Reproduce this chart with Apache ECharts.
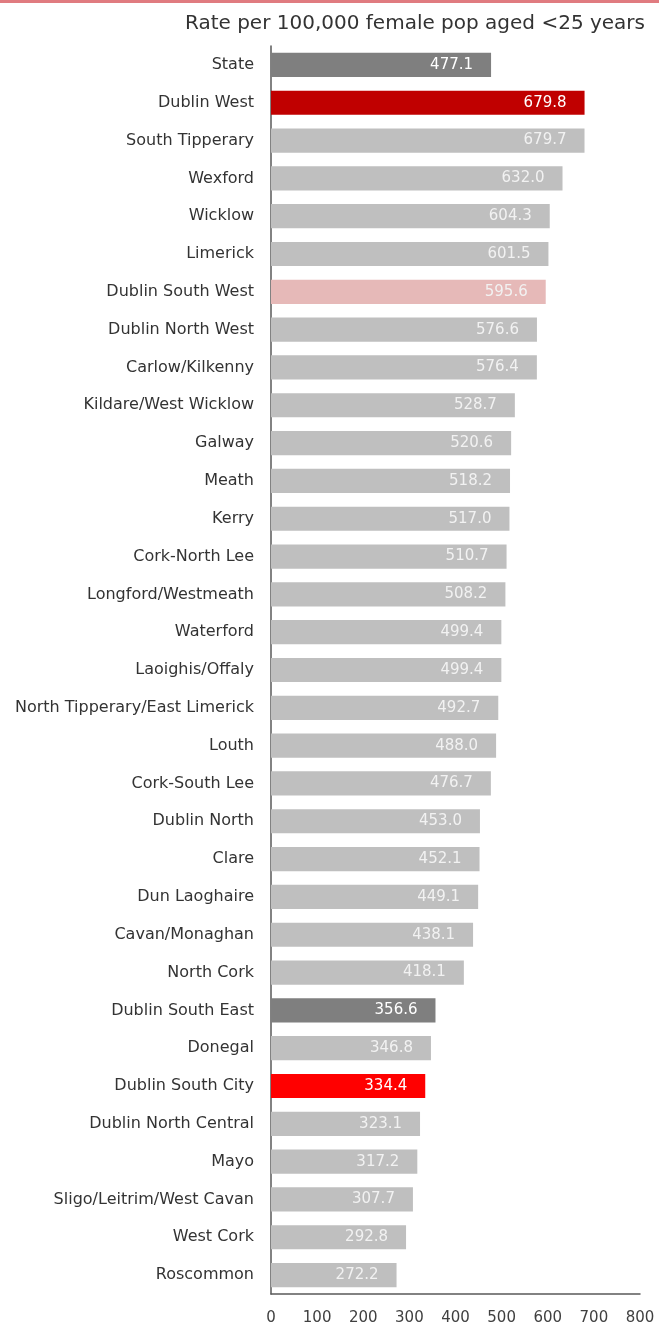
<!DOCTYPE html>
<html>
<head>
<meta charset="utf-8">
<script src="https://cdn.jsdelivr.net/npm/echarts@6/dist/echarts.min.js"></script>
<style>html,body{margin:0;padding:0;background:#fff}#c{width:659px;height:1327px}</style>
</head>
<body>
<div id="c"></div>
<script>
var categories = ["State","Dublin West","South Tipperary","Wexford","Wicklow","Limerick","Dublin South West","Dublin North West","Carlow/Kilkenny","Kildare/West Wicklow","Galway","Meath","Kerry","Cork-North Lee","Longford/Westmeath","Waterford","Laoighis/Offaly","North Tipperary/East Limerick","Louth","Cork-South Lee","Dublin North","Clare","Dun Laoghaire","Cavan/Monaghan","North Cork","Dublin South East","Donegal","Dublin South City","Dublin North Central","Mayo","Sligo/Leitrim/West Cavan","West Cork","Roscommon"];
var values = [477.1,679.8,679.7,632.0,604.3,601.5,595.6,576.6,576.4,528.7,520.6,518.2,517.0,510.7,508.2,499.4,499.4,492.7,488.0,476.7,453.0,452.1,449.1,438.1,418.1,356.6,346.8,334.4,323.1,317.2,307.7,292.8,272.2];
var xTicks = [0,100,200,300,400,500,600,700,800];
var title = "Rate per 100,000 female pop aged <25 years";

var defaultColor = '#bfbfbf';
var specialColors = {
  "State": '#7f7f7f',
  "Dublin West": '#c00000',
  "Dublin South West": '#e6b9b8',
  "Dublin South East": '#7f7f7f',
  "Dublin South City": '#ff0000'
};
var strongLabel = {"State":1,"Dublin West":1,"Dublin South East":1,"Dublin South City":1};

var chart = echarts.init(document.getElementById('c'), null, {renderer:'canvas'});
chart.setOption({
  animation:false,
  graphic:[
    {type:'rect', left:0, top:0, shape:{width:659, height:3}, style:{fill:'#e07b80'}},
    {type:'text', right:14, top:14, style:{text:title, font:'20px "DejaVu Sans"', fill:'#333333'}}
  ],
  grid:{left:271, right:19, top:46, bottom:33},
  xAxis:{
    type:'value', min:0, max:800, interval:100,
    axisLine:{show:true, lineStyle:{color:'#595959', width:1.5}},
    axisTick:{show:false}, splitLine:{show:false},
    axisLabel:{color:'#404040', fontSize:15, fontFamily:'DejaVu Sans', margin:17,
      formatter:function(v){return xTicks.indexOf(v)>=0?String(v):'';}}
  },
  yAxis:{
    type:'category', data:categories, inverse:true,
    axisLine:{show:true, lineStyle:{color:'#595959', width:1.5}},
    axisTick:{show:false},
    axisLabel:{color:'#333333', fontSize:16, fontFamily:'DejaVu Sans', margin:17}
  },
  series:[{
    type:'bar', barCategoryGap:'36%',
    data: values.map(function(v,i){
      var c = categories[i];
      return {value:v, itemStyle:{color: specialColors[c] || defaultColor},
        label:{color: strongLabel[c] ? '#ffffff' : '#f2f2f2'}};
    }),
    label:{show:true, position:'insideRight', distance:18, fontSize:15, fontFamily:'DejaVu Sans',
      formatter:function(p){return p.value.toFixed(1);}}
  }]
});
</script>
</body>
</html>
